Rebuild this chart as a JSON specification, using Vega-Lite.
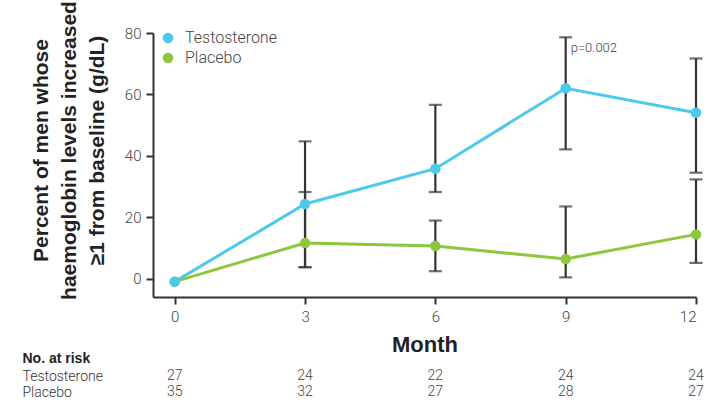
{
  "$schema": "https://vega.github.io/schema/vega-lite/v6.json",
  "autosize": {"type": "pad"},
  "padding": {"left": 22, "top": 0, "right": 5, "bottom": 4},
  "background": "white",
  "config": {"font": "Roboto", "view": {"stroke": null}},
  "spacing": 71,
  "bounds": "flush",
  "datasets": {
    "series": [
      {"group": "Placebo", "month": 0, "value": -1, "lo": null, "hi": null},
      {"group": "Placebo", "month": 3, "value": 11.6, "lo": 3.7, "hi": 28.2},
      {"group": "Placebo", "month": 6, "value": 10.6, "lo": 2.4, "hi": 18.9},
      {"group": "Placebo", "month": 9, "value": 6.4, "lo": 0.4, "hi": 23.5},
      {"group": "Placebo", "month": 12, "value": 14.4, "lo": 5.1, "hi": 32.3},
      {"group": "Testosterone", "month": 0, "value": -1, "lo": null, "hi": null},
      {"group": "Testosterone", "month": 3, "value": 24.3, "lo": 3.7, "hi": 44.7},
      {"group": "Testosterone", "month": 6, "value": 35.8, "lo": 28.2, "hi": 56.6},
      {"group": "Testosterone", "month": 9, "value": 62, "lo": 42.1, "hi": 78.6},
      {"group": "Testosterone", "month": 12, "value": 54, "lo": 34.5, "hi": 71.7}
    ],
    "risk": [
      {"group": "Testosterone", "month": 0, "n": 27},
      {"group": "Testosterone", "month": 3, "n": 24},
      {"group": "Testosterone", "month": 6, "n": 22},
      {"group": "Testosterone", "month": 9, "n": 24},
      {"group": "Testosterone", "month": 12, "n": 24},
      {"group": "Placebo", "month": 0, "n": 35},
      {"group": "Placebo", "month": 3, "n": 32},
      {"group": "Placebo", "month": 6, "n": 27},
      {"group": "Placebo", "month": 9, "n": 28},
      {"group": "Placebo", "month": 12, "n": 27}
    ],
    "notes": [
      {"month": 9, "value": 75, "label": "p=0.002"}
    ]
  },
  "vconcat": [
    {
      "width": 543,
      "height": 264,
      "data": {"name": "series"},
      "encoding": {
        "x": {
          "field": "month", "type": "quantitative",
          "scale": {"domain": [-0.5, 12], "nice": false, "zero": false},
          "axis": {
            "values": [0, 3, 6, 9, 12], "grid": false,
            "title": "Month", "titleFont": "Liberation Sans", "titleFontSize": 22, "titleFontWeight": "bold", "titleColor": "#222", "titlePadding": 10,
            "labelFontSize": 15, "labelFontWeight": 300, "labelColor": "#444", "labelPadding": 5,
            "tickSize": 7, "tickWidth": 2, "tickColor": "#333", "domainColor": "#333", "domainWidth": 2
          }
        }
      },
      "layer": [
        {
          "transform": [{"filter": "isValid(datum.lo)"}],
          "mark": {"type": "rule", "color": "#333", "strokeWidth": 2.2},
          "encoding": {
            "y": {
              "field": "lo", "type": "quantitative",
              "title": ["Percent of men whose", "haemoglobin levels increased", "≥1 from baseline (g/dL)"],
              "scale": {"domain": [-6, 80], "nice": false, "zero": false},
              "axis": {
                "values": [0, 20, 40, 60, 80], "grid": false,
                "labelFontSize": 15, "labelFontWeight": 300, "labelColor": "#444", "labelPadding": 5,
                "tickSize": 7, "tickWidth": 2, "tickColor": "#333", "domainColor": "#333", "domainWidth": 2,
                "titleFont": "Liberation Sans", "titleFontSize": 21, "titleFontWeight": "bold", "titleColor": "#222",
                "titleLineHeight": 28, "titleAngle": 270, "titleAlign": "center", "titleBaseline": "alphabetic",
                "titleX": -106, "titleY": 117
              }
            },
            "y2": {"field": "hi"}
          }
        },
        {
          "transform": [{"filter": "isValid(datum.lo)"}],
          "mark": {"type": "tick", "orient": "horizontal", "color": "#333", "thickness": 2.2, "size": 13},
          "encoding": {
            "y": {"field": "lo", "type": "quantitative", "title": ["Percent of men whose", "haemoglobin levels increased", "≥1 from baseline (g/dL)"]}
          }
        },
        {
          "transform": [{"filter": "isValid(datum.hi)"}],
          "mark": {"type": "tick", "orient": "horizontal", "color": "#333", "thickness": 2.2, "size": 13},
          "encoding": {
            "y": {"field": "hi", "type": "quantitative", "title": ["Percent of men whose", "haemoglobin levels increased", "≥1 from baseline (g/dL)"]}
          }
        },
        {
          "mark": {"type": "line", "strokeWidth": 3},
          "encoding": {
            "y": {"field": "value", "type": "quantitative", "title": ["Percent of men whose", "haemoglobin levels increased", "≥1 from baseline (g/dL)"]},
            "color": {
              "field": "group", "type": "nominal",
              "scale": {"domain": ["Testosterone", "Placebo"], "range": ["#4DC9EC", "#8DC63F"]},
              "legend": {
                "title": null, "orient": "none", "legendX": 7, "legendY": -3, "padding": 0,
                "labelFontSize": 16, "labelFontWeight": 300, "labelColor": "#444", "labelOffset": 9,
                "symbolType": "circle", "symbolSize": 85, "rowPadding": 4
              }
            }
          }
        },
        {
          "mark": {"type": "point", "filled": true, "size": 110, "opacity": 1},
          "encoding": {
            "y": {"field": "value", "type": "quantitative", "title": ["Percent of men whose", "haemoglobin levels increased", "≥1 from baseline (g/dL)"]},
            "color": {
              "field": "group", "type": "nominal",
              "scale": {"domain": ["Testosterone", "Placebo"], "range": ["#4DC9EC", "#8DC63F"]},
              "legend": {
                "title": null, "orient": "none", "legendX": 7, "legendY": -3, "padding": 0,
                "labelFontSize": 16, "labelFontWeight": 300, "labelColor": "#444", "labelOffset": 9,
                "symbolType": "circle", "symbolSize": 85, "rowPadding": 4
              }
            }
          }
        },
        {
          "data": {"name": "notes"},
          "mark": {"type": "text", "align": "left", "baseline": "middle", "dx": 5, "fontSize": 13, "fontWeight": 300, "color": "#444"},
          "encoding": {
            "y": {"field": "value", "type": "quantitative", "title": ["Percent of men whose", "haemoglobin levels increased", "≥1 from baseline (g/dL)"]},
            "text": {"field": "label"}
          }
        }
      ]
    },
    {
      "width": 543,
      "height": 32,
      "data": {"name": "risk"},
      "mark": {"type": "text", "fontSize": 14, "fontWeight": 300, "color": "#444"},
      "encoding": {
        "x": {"field": "month", "type": "quantitative", "scale": {"domain": [-0.5, 12], "nice": false, "zero": false}, "axis": null},
        "y": {
          "field": "group", "type": "nominal", "sort": ["Testosterone", "Placebo"],
          "scale": {"paddingInner": 0, "paddingOuter": 0},
          "axis": {
            "domain": false, "ticks": false, "tickSize": 0,
            "labelAlign": "left", "labelPadding": 131, "labelFontSize": 14, "labelFontWeight": 300, "labelColor": "#333",
            "title": "No. at risk", "titleAngle": 0, "titleAlign": "left", "titleBaseline": "middle",
            "titleX": -131, "titleY": -10, "titleFont": "Liberation Sans", "titleFontSize": 14, "titleFontWeight": "bold", "titleColor": "#222"
          }
        },
        "text": {"field": "n", "type": "quantitative"}
      }
    }
  ]
}
